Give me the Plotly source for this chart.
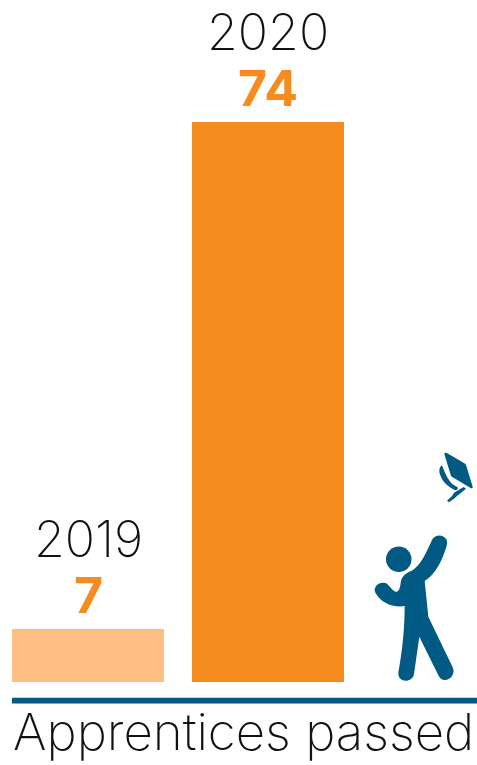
import plotly.graph_objects as go

years = ["2019", "2020"]
passed = [7, 74]
bar_colors = ["#FDBE84", "#F68B1F"]
caption = "Apprentices passed"

ORANGE = "#F68B1F"
BLUE = "#005A84"
W, H = 477, 765
FONT = "Inter"


def zoomed(x, y):
    """Icon drawing units to paper coordinates."""
    return f"{(360 + x / 3) / W:.5f},{1 - (440 + y / 3) / H:.5f}"


def path(*cmds):
    out = []
    for c in cmds:
        if isinstance(c, str):
            out.append(c)
        else:
            out.append(zoomed(*c))
    return " ".join(out)


person = path(
    "M", (122, 428),
    "C", (124, 408), (140, 398), (155, 392),
    "C", (182, 378), (200, 335), (216, 300),
    "C", (224, 282), (250, 282), (259, 298),
    "C", (263, 306), (261, 316), (258, 324),
    "C", (244, 368), (226, 402), (194, 423),
    "L", (205, 530),
    "L", (278, 682),
    "C", (287, 700), (272, 722), (252, 720),
    "C", (244, 719), (239, 714), (235, 706),
    "L", (178, 590),
    "L", (162, 702),
    "C", (158, 730), (112, 730), (115, 697),
    "C", (126, 640), (134, 570), (134, 498),
    "C", (100, 504), (62, 488), (46, 458),
    "C", (38, 440), (58, 424), (76, 429),
    "C", (88, 432), (94, 452), (107, 455),
    "C", (115, 456), (120, 448), (122, 428), "Z",
)

cap_board = path(
    "M", (253, 42),
    "C", (254, 37), (258, 37), (262, 40),
    "L", (313, 70),
    "C", (317, 72), (317, 74), (319, 78),
    "L", (338, 140),
    "C", (339, 144), (335, 146), (332, 144),
    "L", (278, 112),
    "C", (274, 110), (273, 107), (272, 104), "Z",
)
cap_base = path(
    "M", (246, 76),
    "C", (236, 82), (236, 98), (243, 110),
    "C", (250, 128), (266, 140), (284, 150),
    "C", (292, 152), (296, 146), (292, 141),
    "L", (280, 134),
    "C", (268, 126), (258, 108), (246, 76), "Z",
)
cap_tassel = path(
    "M", (311, 141), "L", (318, 146), "L", (291, 168),
    "L", (284, 175), "L", (267, 187), "L", (261, 182),
    "L", (276, 168), "L", (282, 158), "Z",
)

fig = go.Figure(
    go.Bar(
        x=[0, 1],
        y=passed,
        width=152 / 180,
        marker=dict(color=bar_colors, line=dict(width=0)),
        hoverinfo="skip",
    )
)

# Year and value stacked above each bar.
for i, (year, value) in enumerate(zip(years, passed)):
    fig.add_annotation(
        x=i, y=value, yshift=2, text=f"<b>{value}</b>", showarrow=False,
        yanchor="bottom", font=dict(family=FONT, size=50, color=ORANGE, weight=900),
    )
    fig.add_annotation(
        x=i, y=value, yshift=58, text=year, showarrow=False,
        yanchor="bottom", font=dict(family=FONT, size=50, color="#111111", weight=200),
    )

fig.add_annotation(
    x=-0.4222, y=-2.4, yshift=0, text=caption, showarrow=False, xanchor="left", yanchor="top",
    borderpad=0, font=dict(family=FONT, size=51, color="#111111", weight=200),
)

shapes = [
    dict(type="rect", xref="x", yref="y", x0=-0.4222, x1=2.2,
         y0=-2.07, y1=-2.85, fillcolor=BLUE, line=dict(width=0)),
    dict(type="circle", xref="paper", yref="paper",
         x0=386 / W, x1=411.5 / W, y0=1 - 572 / H, y1=1 - 546.5 / H,
         fillcolor=BLUE, line=dict(width=0)),
]
for d in (person, cap_board, cap_base, cap_tassel):
    shapes.append(dict(type="path", xref="paper", yref="paper", path=d,
                       fillcolor=BLUE, line=dict(width=0)))

fig.update_layout(
    width=W,
    height=H,
    margin=dict(l=0, r=0, t=0, b=0),
    paper_bgcolor="white",
    plot_bgcolor="white",
    showlegend=False,
    shapes=shapes,
    xaxis=dict(visible=False, range=[-88 / 180, (W - 88) / 180]),
    yaxis=dict(visible=False, range=[-83 / 7.568, 682 / 7.568]),
)

fig.write_html("out.html", config={"displayModeBar": False})
